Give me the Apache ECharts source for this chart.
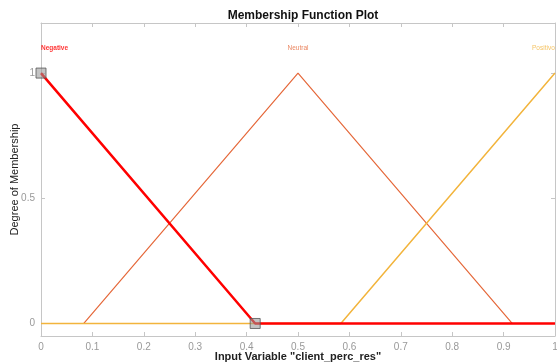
<!DOCTYPE html>
<html><head><meta charset="utf-8">
<script src="https://cdn.jsdelivr.net/npm/echarts@6/dist/echarts.min.js"></script>
<style>html,body{margin:0;padding:0;background:#fff}#c{width:557px;height:362px}</style>
</head><body><div id="c"></div>
<script>
const mfNames = ['Negative', 'Neutral', 'Positivo'];
const negX = [0, 0.4167, 1];
const negY = [1, 0, 0];
const neuX = [0, 0.0833, 0.5, 0.9167, 1];
const neuY = [0, 0, 1, 0, 0];
const posX = [0, 0.5833, 1];
const posY = [0, 0, 1];
const handleX = [0, 0.4167];
const handleY = [1, 0];
const xTicks = [0, 0.1, 0.2, 0.3, 0.4, 0.5, 0.6, 0.7, 0.8, 0.9, 1];
const yTicks = [0, 0.5, 1];
const labelX = [0, 0.5, 1];
const labelY = 1.1;

const pts = (xs, ys) => xs.map((x, i) => [x, ys[i]]);
const axisCol = '#c6c6c6';
const font = 'Liberation Sans, Arial, sans-serif';

const chart = echarts.init(document.getElementById('c'), null, {renderer: 'canvas'});
chart.setOption({
  animation: false,
  title: {text: 'Membership Function Plot', left: 298, top: 5, textAlign: 'center',
    textStyle: {fontFamily: font, fontSize: 12, fontWeight: 'bold', color: '#111'}},
  grid: {left: 41, right: 2, top: 23, bottom: 26, containLabel: false, outerBoundsMode: 'none'},
  xAxis: [{
    type: 'value', min: 0, max: 1, interval: 0.1, position: 'bottom',
    name: 'Input Variable "client_perc_res"', nameLocation: 'middle', nameGap: 15, nameMoveOverlap: false,
    nameTextStyle: {fontFamily: font, fontSize: 11, color: '#222', fontWeight: 'bold'},
    axisLine: {show: true, onZero: false, lineStyle: {color: axisCol, width: 1}},
    axisTick: {show: true, inside: true, length: 4, lineStyle: {color: axisCol}},
    axisLabel: {fontFamily: font, fontSize: 10, color: '#999', margin: 6,
      formatter: v => String(Math.round(v * 10) / 10)},
    splitLine: {show: false}
  }, {
    type: 'value', min: 0, max: 1, interval: 0.1, position: 'top',
    axisLine: {show: true, onZero: false, lineStyle: {color: axisCol, width: 1}},
    axisTick: {show: true, inside: true, length: 4, lineStyle: {color: axisCol}},
    axisLabel: {show: false}, splitLine: {show: false}
  }],
  yAxis: [{
    type: 'value', min: -0.05, max: 1.2, position: 'left',
    name: 'Degree of Membership', nameLocation: 'middle', nameGap: 21, nameMoveOverlap: false,
    nameTextStyle: {fontFamily: font, fontSize: 11, color: '#222'},
    axisLine: {show: true, onZero: false, lineStyle: {color: axisCol, width: 1}},
    axisTick: {show: true, inside: true, length: 4, customValues: yTicks, lineStyle: {color: axisCol}},
    axisLabel: {fontFamily: font, fontSize: 10, color: '#999', margin: 6, customValues: yTicks,
      formatter: v => String(v)},
    splitLine: {show: false}
  }, {
    type: 'value', min: -0.05, max: 1.2, position: 'right',
    axisLine: {show: true, onZero: false, lineStyle: {color: axisCol, width: 1}},
    axisTick: {show: true, inside: true, length: 4, customValues: yTicks, lineStyle: {color: axisCol}},
    axisLabel: {show: false}, splitLine: {show: false}
  }],
  series: [
    {type: 'line', data: pts(neuX, neuY), symbol: 'none', lineStyle: {color: '#e5683a', width: 1.2}, z: 2},
    {type: 'line', data: pts(posX, posY), symbol: 'none', lineStyle: {color: '#f2b43c', width: 1.5}, z: 3},
    {type: 'line', data: pts(negX, negY), symbol: 'none', lineStyle: {color: '#ff0000', width: 2.5}, z: 4},
    {type: 'scatter', data: pts(handleX, handleY), symbol: 'rect', symbolSize: 10,
      itemStyle: {color: 'rgba(150,150,150,0.7)', borderColor: '#555', borderWidth: 1}, z: 5},
    {type: 'scatter', symbolSize: 0, z: 6,
      data: [
        {value: [labelX[0], labelY], label: {show: true, position: 'inside', align: 'left', formatter: mfNames[0], color: '#ff0000', fontWeight: 'bold'}},
        {value: [labelX[1], labelY], label: {show: true, position: 'inside', align: 'center', formatter: mfNames[1], color: '#e5683a'}},
        {value: [labelX[2], labelY], label: {show: true, position: 'inside', align: 'left', offset: [-23, 0], formatter: mfNames[2], color: '#f2b43c'}}
      ],
      label: {fontFamily: font, fontSize: 6.5}}
  ]
});
</script></body></html>
